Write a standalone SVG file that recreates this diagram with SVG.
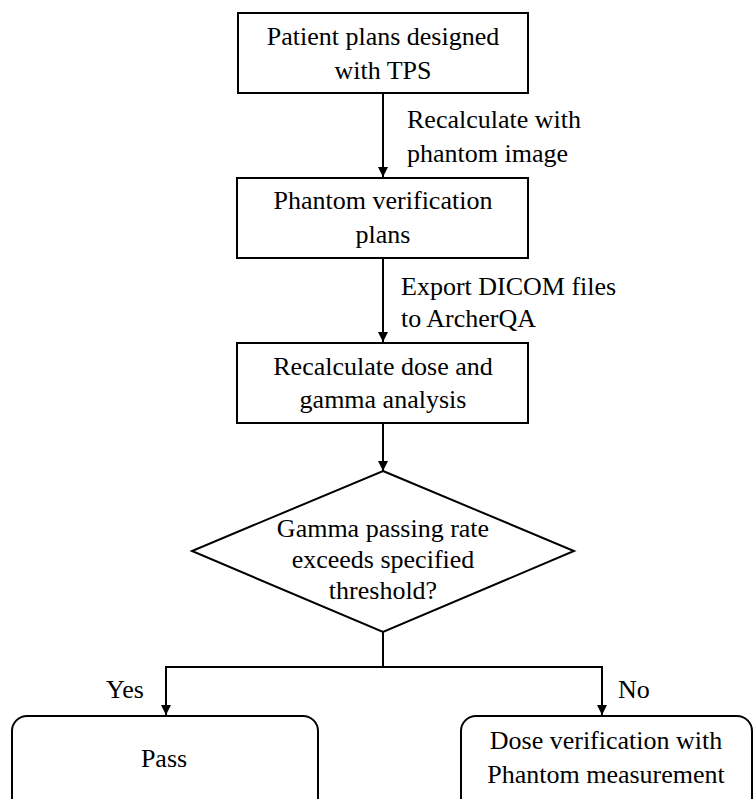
<svg xmlns="http://www.w3.org/2000/svg" width="755" height="799" viewBox="0 0 755 799">
<style>
.n{fill:#fff;stroke:#000;stroke-width:2}
.c{text-anchor:middle}
.e{fill:none;stroke:#000;stroke-width:2}
</style>
<defs>
<marker id="ah" markerWidth="10" markerHeight="12" refX="10" refY="6" orient="auto" markerUnits="userSpaceOnUse" viewBox="0 0 10 12">
<path d="M0,1 L10,6 L0,11 Z" fill="#000"/>
</marker>
</defs>
<rect width="755" height="799" fill="#fff"/>
<g font-family="Liberation Serif, DejaVu Serif, serif" font-size="26" fill="#000">
<g id="connectors">
<line class="e" x1="383" y1="93" x2="383" y2="177" marker-end="url(#ah)"/>
<line class="e" x1="383" y1="258" x2="383" y2="342" marker-end="url(#ah)"/>
<line class="e" x1="383" y1="423" x2="383" y2="471" marker-end="url(#ah)"/>
<polyline class="e" points="383,632 383,667 166,667 166,715" marker-end="url(#ah)"/>
<polyline class="e" points="383,667 602,667 602,715" marker-end="url(#ah)"/>
<text x="407" y="128">Recalculate with</text>
<text x="407" y="162">phantom image</text>
<text x="401" y="295">Export DICOM files</text>
<text x="401" y="327">to ArcherQA</text>
<text x="106" y="698">Yes</text>
<text x="618" y="698">No</text>
</g>
<g id="n1">
<rect class="n" x="238" y="13" width="290" height="80"/>
<text class="c" x="383" y="45">Patient plans designed</text>
<text class="c" x="383" y="79">with TPS</text>
</g>
<g id="n2">
<rect class="n" x="237" y="178" width="291" height="80"/>
<text class="c" x="383" y="209">Phantom verification</text>
<text class="c" x="383" y="243">plans</text>
</g>
<g id="n3">
<rect class="n" x="237" y="343" width="291" height="80"/>
<text class="c" x="383" y="375">Recalculate dose and</text>
<text class="c" x="383" y="408">gamma analysis</text>
</g>
<g id="n4">
<polygon class="n" points="383,471 574,551 383,632 192,551"/>
<text class="c" x="383" y="537">Gamma passing rate</text>
<text class="c" x="383" y="568">exceeds specified</text>
<text class="c" x="383" y="599">threshold?</text>
</g>
<g id="n5">
<rect class="n" x="12" y="716" width="306" height="110" rx="15" ry="15"/>
<text class="c" x="164" y="767">Pass</text>
</g>
<g id="n6">
<rect class="n" x="461" y="716" width="291" height="110" rx="15" ry="15"/>
<text class="c" x="606" y="749">Dose verification with</text>
<text class="c" x="606" y="783">Phantom measurement</text>
</g>
</g>
</svg>
